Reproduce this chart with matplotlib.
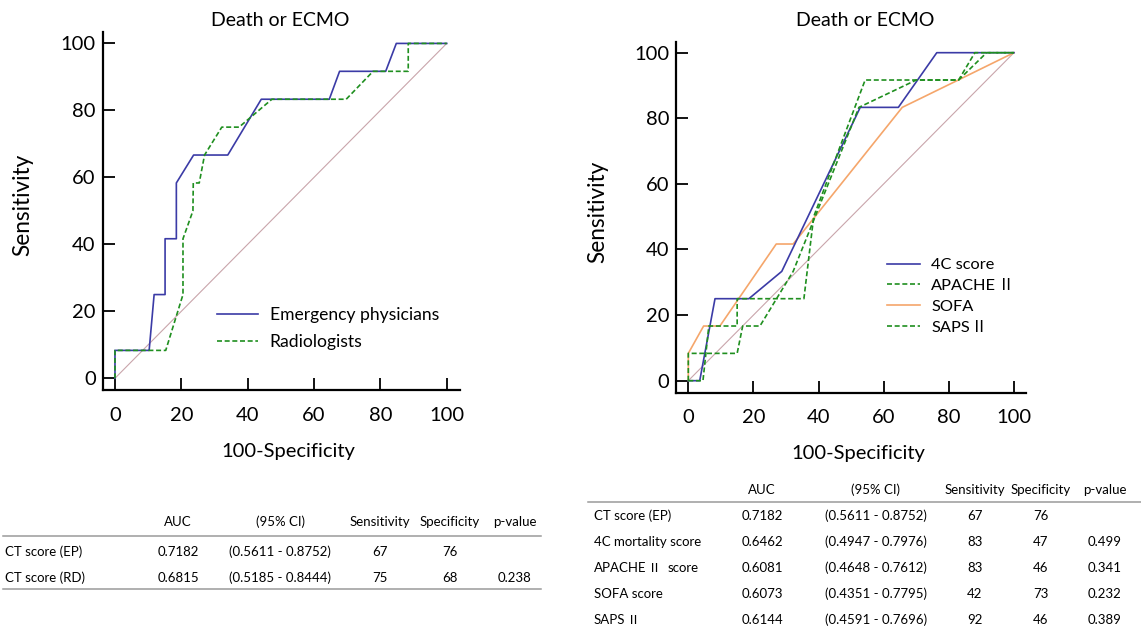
# ROC curves for death or ECMO, CT score vs clinical scores, with AUC tables

import matplotlib
matplotlib.use('Agg')
import matplotlib.pyplot as plt
from matplotlib.lines import Line2D

plt.rcParams['font.family'] = ['Lato', 'Noto Sans CJK JP', 'DejaVu Sans']
CJK = 'Noto Sans CJK JP'
ROMAN2 = '\u2161'

# left panel: CT score read by emergency physicians / radiologists
ep_fpr = [0, 0, 10.3, 11.8, 15.1, 15.1, 18.5, 18.5, 23.7, 34.0, 44.1, 64.6, 67.7, 81.6, 84.8, 100]
ep_sens = [0, 8.33, 8.33, 25, 25, 41.67, 41.67, 58.33, 66.67, 66.67, 83.33, 83.33, 91.67, 91.67, 100, 100]
rd_fpr = [0, 0, 15.3, 20.5, 20.5, 23.5, 23.6, 25.4, 27.0, 32.2, 37.4, 47.3, 69.7, 77.8, 88.4, 88.4, 100]
rd_sens = [0, 8.33, 8.33, 25, 41.67, 50, 58.33, 58.33, 66.67, 75, 75, 83.33, 83.33, 91.67, 91.67, 100, 100]

# right panel: clinical scores
c4_fpr = [0, 3.5, 8.2, 18.6, 28.7, 52.8, 64.5, 76.3, 100]
c4_sens = [0, 0, 25, 25, 33.33, 83.33, 83.33, 100, 100]
apache_fpr = [0, 0, 15.0, 16.7, 22.0, 32.2, 52.4, 70.0, 83.0, 91.6, 100]
apache_sens = [0, 8.33, 8.33, 16.67, 16.67, 33.33, 83.33, 91.67, 91.67, 100, 100]
sofa_fpr = [0, 0, 4.7, 9.7, 27.0, 32.2, 65.7, 82.9, 100]
sofa_sens = [0, 8.33, 16.67, 16.67, 41.67, 41.67, 83.33, 91.67, 100]
saps_fpr = [0, 4.5, 6.3, 15.0, 15.0, 35.5, 38.5, 54.3, 83.0, 88.0, 100]
saps_sens = [0, 0, 16.67, 16.67, 25, 25, 50, 91.67, 91.67, 100, 100]

diag = [0, 100]
ticks = [0, 20, 40, 60, 80, 100]

# tables
tab_header = ['AUC', '(95% CI)', 'Sensitivity', 'Specificity', 'p-value']
left_names = ['CT score (EP)', 'CT score (RD)']
left_auc = ['0.7182', '0.6815']
left_ci = ['(0.5611 - 0.8752)', '(0.5185 - 0.8444)']
left_sens = ['67', '75']
left_spec = ['76', '68']
left_p = ['', '0.238']

right_names = ['CT score (EP)', '4C mortality score', 'APACHE \u2161  score', 'SOFA score', 'SAPS \u2161']
right_auc = ['0.7182', '0.6462', '0.6081', '0.6073', '0.6144']
right_ci = ['(0.5611 - 0.8752)', '(0.4947 - 0.7976)', '(0.4648 - 0.7612)', '(0.4351 - 0.7795)', '(0.4591 - 0.7696)']
right_sens = ['67', '83', '83', '42', '92']
right_spec = ['76', '47', '46', '73', '46']
right_p = ['', '0.499', '0.341', '0.232', '0.389']

W, H = 1141, 631
fig = plt.figure(figsize=(W / 100, H / 100), dpi=100)
renderer = fig.canvas.get_renderer()

def fx(px):
    return px / W

def fy(py):
    return 1 - py / H

BLUE = '#3b3ba6'
GREEN = '#1f8f1f'
ORANGE = '#f5a66b'
DIAG = '#c9a5ab'
DASH = (0, (3, 1.6))


def style_axes(ax, xlim, ylim):
    ax.set_xlim(xlim)
    ax.set_ylim(ylim)
    ax.set_xticks(ticks)
    ax.set_yticks(ticks)
    for s in ['top', 'right']:
        ax.spines[s].set_visible(False)
    for s in ['left', 'bottom']:
        ax.spines[s].set_linewidth(1.6)
    ax.tick_params(direction='in', length=8.5, width=1.3, labelsize=14.5)
    ax.tick_params(axis='x', pad=12)
    ax.tick_params(axis='y', pad=5)
    ax.patch.set_alpha(0)


def mixed_text(x, y, s, size):
    # x, y: display pixels of the baseline start; roman numeral drawn with the CJK font
    space = size * 100 / 72 * 0.26
    pieces = s.split(ROMAN2)
    parts = []
    for i, p in enumerate(pieces):
        if i > 0:
            parts.append((ROMAN2, [CJK]))
        if p:
            parts.append((p, None))
    for j, (txt, fam) in enumerate(parts):
        nxt_cjk = j + 1 < len(parts) and parts[j + 1][1] is not None
        lead = len(txt) - len(txt.lstrip(' '))
        x += lead * space
        if not txt.strip():
            continue
        kw = {'family': fam} if fam else {}
        t = fig.text(x / W, y / H, txt.strip(), fontsize=size, va='baseline', ha='left', **kw)
        x = t.get_window_extent(renderer).x1
        trail = len(txt) - len(txt.rstrip(' '))
        x += trail * space * (0.3 if nxt_cjk else 1)


def fix_legend_roman(leg, size):
    fig.canvas.draw()
    for t in leg.get_texts():
        s = t.get_text()
        if ROMAN2 in s:
            x0, y0 = t.get_transform().transform(t.get_position())
            t.set_text('')
            mixed_text(x0, y0, s, size)


# left plot
ax1 = fig.add_axes([fx(102.7), fy(390), fx(460 - 102.7), (390 - 31.7) / H])
style_axes(ax1, (-3.7, 104), (-3.5, 103.5))
ax1.plot(diag, diag, color=DIAG, lw=0.8)
ax1.plot(ep_fpr, ep_sens, color=BLUE, lw=1.2, label='Emergency physicians')
ax1.plot(rd_fpr, rd_sens, color=GREEN, lw=1.2, ls=DASH, label='Radiologists')
ax1.legend(loc='upper left', bbox_to_anchor=(fx(217), fy(307)), bbox_transform=fig.transFigure,
           frameon=False, fontsize=12.6, handlelength=2.35, handletextpad=0.65,
           labelspacing=0.62, borderpad=0, borderaxespad=0)

# right plot
ax2 = fig.add_axes([fx(676), fy(392.7), fx(1026 - 676), (392.7 - 41.7) / H])
style_axes(ax2, (-3.78, 103.7), (-3.66, 103.35))
ax2.plot(diag, diag, color=DIAG, lw=0.8)
ax2.plot(c4_fpr, c4_sens, color=BLUE, lw=1.2, label='4C score', zorder=3)
ax2.plot(apache_fpr, apache_sens, color=GREEN, lw=1.2, ls=DASH, label='APACHE \u2161', zorder=4)
ax2.plot(sofa_fpr, sofa_sens, color=ORANGE, lw=1.2, label='SOFA', zorder=2)
ax2.plot(saps_fpr, saps_sens, color=GREEN, lw=1.2, ls=DASH, label='SAPS \u2161', zorder=4)
leg2 = ax2.legend(loc='upper left', bbox_to_anchor=(fx(887), fy(258)), bbox_transform=fig.transFigure,
                  frameon=False, fontsize=11.8, handlelength=2.0, handletextpad=0.7,
                  labelspacing=0.38, borderpad=0, borderaxespad=0)
fix_legend_roman(leg2, 11.8)

# titles and axis labels
for cx, cy, txt in [(280, 20, 'Death or ECMO'), (865, 20, 'Death or ECMO')]:
    fig.text(fx(cx), fy(cy), txt, ha='center', va='center', fontsize=14)
fig.text(fx(288), fy(452), '100-Specificity', ha='center', va='center', fontsize=14.5)
fig.text(fx(858), fy(453), '100-Specificity', ha='center', va='center', fontsize=14.5)
fig.text(fx(23), fy(205), 'Sensitivity', ha='center', va='center', rotation=90, fontsize=16.3)
fig.text(fx(598), fy(212), 'Sensitivity', ha='center', va='center', rotation=90, fontsize=16.3)


def draw_table(names, cols, name_x, col_x, header_y, row_ys, rules, rule_x0, rule_x1):
    fs = 9.5
    base = 4.5  # baseline offset below the row centre, px
    for hx, h in zip(col_x, tab_header):
        fig.text(fx(hx), fy(header_y + base), h, ha='center', va='baseline', fontsize=fs)
    for i, ry in enumerate(row_ys):
        mixed_text(name_x, H - ry - base, names[i], fs)
        for cx, col in zip(col_x, cols):
            fig.text(fx(cx), fy(ry + base), col[i], ha='center', va='baseline', fontsize=fs)
    for ry in rules:
        fig.add_artist(Line2D([fx(rule_x0), fx(rule_x1)], [fy(ry), fy(ry)],
                              color='#9a9a9a', lw=1.1, transform=fig.transFigure))


draw_table(left_names, [left_auc, left_ci, left_sens, left_spec, left_p],
           5, [178, 280, 380, 450, 515], 522, [552, 578], [536, 589], 3, 541)
draw_table(right_names, [right_auc, right_ci, right_sens, right_spec, right_p],
           594, [762, 876, 975, 1041, 1105], 490, [516, 542, 568, 594, 620], [502], 588, 1141)

plt.savefig('out.png', dpi=100)
